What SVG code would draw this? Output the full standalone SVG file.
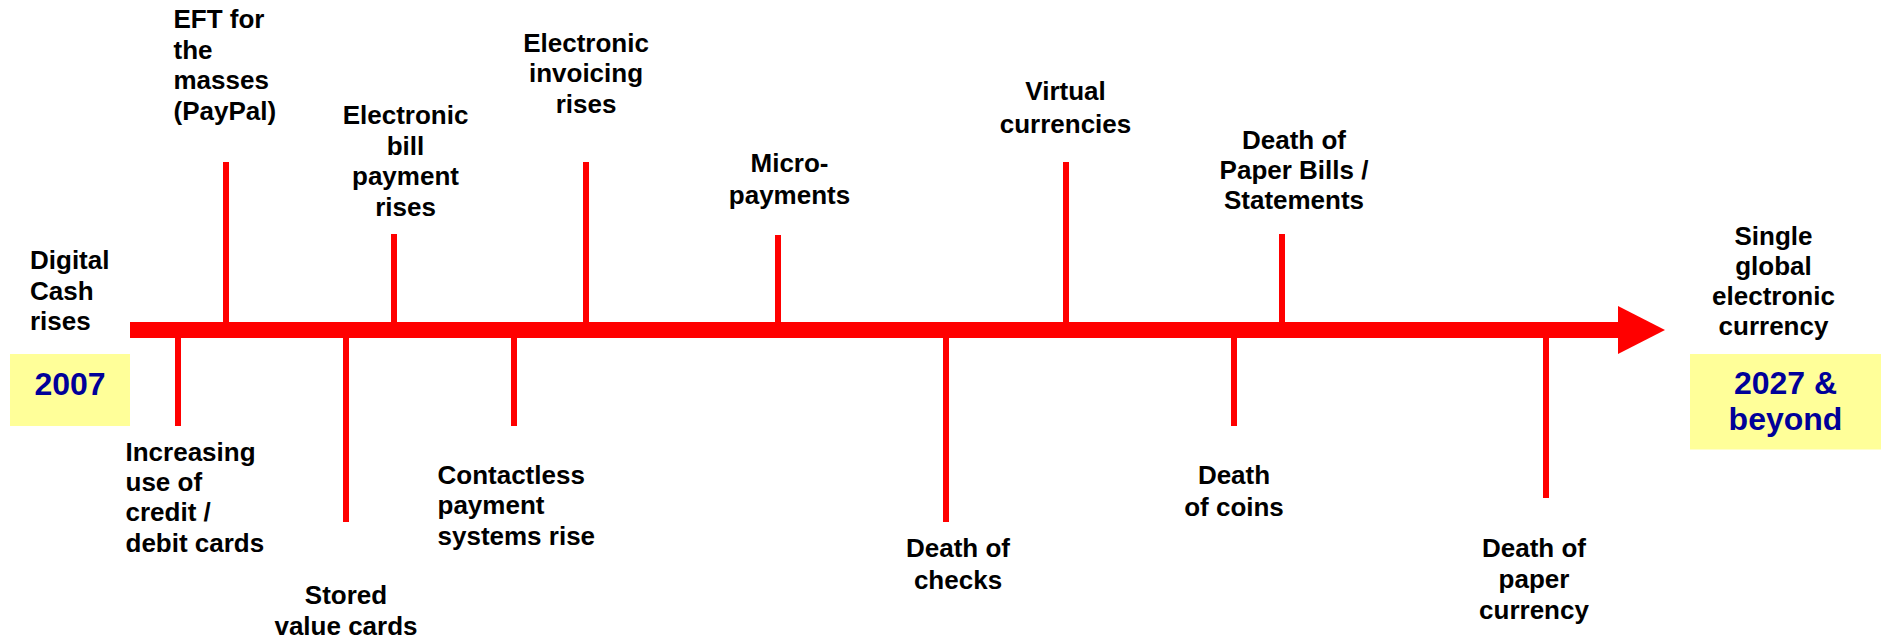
<svg xmlns="http://www.w3.org/2000/svg" width="1881" height="639" viewBox="0 0 1881 639">
<style>
.lbl{font-family:"Liberation Sans",Arial,Helvetica,sans-serif;font-weight:bold;font-size:26px;fill:#000}
.mid{text-anchor:middle}
.yr{font-family:"Liberation Sans",Arial,Helvetica,sans-serif;font-weight:bold;font-size:32px;fill:#000099;text-anchor:middle}
.box{fill:#FFFF99}
.tick{stroke:#FF0000;stroke-width:6;fill:none}
.axis{fill:#FF0000}
</style>
<rect width="1881" height="639" fill="#FFFFFF"/>
<g id="connectors">
  <rect class="axis" x="130" y="322" width="1489" height="16"/>
  <polygon class="axis" points="1618,306 1665,330 1618,354"/>
  <line class="tick" x1="226" y1="322" x2="226" y2="162"/>
  <line class="tick" x1="394" y1="322" x2="394" y2="234"/>
  <line class="tick" x1="586" y1="322" x2="586" y2="162"/>
  <line class="tick" x1="778" y1="322" x2="778" y2="235"/>
  <line class="tick" x1="1066" y1="322" x2="1066" y2="162"/>
  <line class="tick" x1="1282" y1="322" x2="1282" y2="234"/>
  <line class="tick" x1="178" y1="338" x2="178" y2="426"/>
  <line class="tick" x1="346" y1="338" x2="346" y2="522"/>
  <line class="tick" x1="514" y1="338" x2="514" y2="426"/>
  <line class="tick" x1="946" y1="338" x2="946" y2="522"/>
  <line class="tick" x1="1234" y1="338" x2="1234" y2="426"/>
  <line class="tick" x1="1546" y1="338" x2="1546" y2="498"/>
</g>
<g id="year-2007">
  <rect class="box" x="10" y="354" width="120" height="72"/>
  <text class="yr" x="70" y="394.5">2007</text>
</g>
<g id="year-2027">
  <rect class="box" x="1690" y="354" width="191" height="95.5"/>
  <text class="yr" x="1785.5" y="393.5">2027 &amp;</text>
  <text class="yr" x="1785.5" y="430">beyond</text>
</g>
<g id="digital-cash">
  <text class="lbl" x="30" y="268.5">Digital</text>
  <text class="lbl" x="30" y="299.5">Cash</text>
  <text class="lbl" x="30" y="330">rises</text>
</g>
<g id="eft">
  <text class="lbl" x="173.5" y="27.5">EFT for</text>
  <text class="lbl" x="173.5" y="58.5">the</text>
  <text class="lbl" x="173.5" y="89">masses</text>
  <text class="lbl" x="173.5" y="120">(PayPal)</text>
</g>
<g id="ebill">
  <text class="lbl mid" x="405.5" y="124">Electronic</text>
  <text class="lbl mid" x="405.5" y="154.5">bill</text>
  <text class="lbl mid" x="405.5" y="185">payment</text>
  <text class="lbl mid" x="405.5" y="215.5">rises</text>
</g>
<g id="einvoicing">
  <text class="lbl mid" x="586" y="51.5">Electronic</text>
  <text class="lbl mid" x="586" y="82">invoicing</text>
  <text class="lbl mid" x="586" y="113">rises</text>
</g>
<g id="micropayments">
  <text class="lbl mid" x="789.5" y="172">Micro-</text>
  <text class="lbl mid" x="789.5" y="204">payments</text>
</g>
<g id="virtual">
  <text class="lbl mid" x="1065.5" y="100">Virtual</text>
  <text class="lbl mid" x="1065.5" y="132.5">currencies</text>
</g>
<g id="paper-bills">
  <text class="lbl mid" x="1294" y="148.5">Death of</text>
  <text class="lbl mid" x="1294" y="179">Paper Bills /</text>
  <text class="lbl mid" x="1294" y="209">Statements</text>
</g>
<g id="single-currency">
  <text class="lbl mid" x="1773.5" y="244.5">Single</text>
  <text class="lbl mid" x="1773.5" y="274.5">global</text>
  <text class="lbl mid" x="1773.5" y="304.5">electronic</text>
  <text class="lbl mid" x="1773.5" y="335">currency</text>
</g>
<g id="cards">
  <text class="lbl" x="125.5" y="460.5">Increasing</text>
  <text class="lbl" x="125.5" y="490.5">use of</text>
  <text class="lbl" x="125.5" y="521">credit /</text>
  <text class="lbl" x="125.5" y="551.5">debit cards</text>
</g>
<g id="stored-value">
  <text class="lbl mid" x="346" y="603.5">Stored</text>
  <text class="lbl mid" x="346" y="635">value cards</text>
</g>
<g id="contactless">
  <text class="lbl" x="437.5" y="483.5">Contactless</text>
  <text class="lbl" x="437.5" y="514">payment</text>
  <text class="lbl" x="437.5" y="545">systems rise</text>
</g>
<g id="checks">
  <text class="lbl mid" x="958" y="557">Death of</text>
  <text class="lbl mid" x="958" y="589">checks</text>
</g>
<g id="coins">
  <text class="lbl mid" x="1234" y="484">Death</text>
  <text class="lbl mid" x="1234" y="515.5">of coins</text>
</g>
<g id="paper-currency">
  <text class="lbl mid" x="1534" y="557">Death of</text>
  <text class="lbl mid" x="1534" y="588">paper</text>
  <text class="lbl mid" x="1534" y="618.5">currency</text>
</g>
</svg>
